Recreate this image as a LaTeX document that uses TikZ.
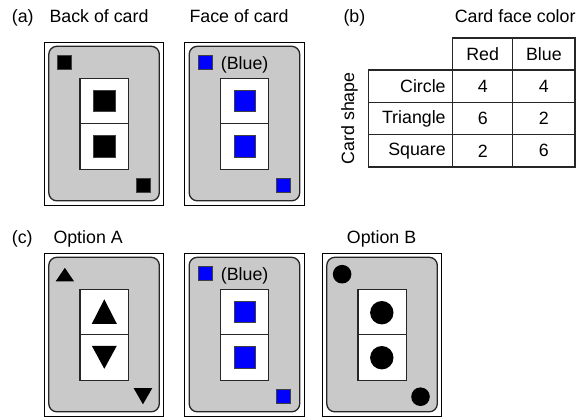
\documentclass[tikz,border=0pt]{standalone}
\usepackage{fontspec}
\setmainfont{Liberation Sans}
\begin{document}
\begin{tikzpicture}[x=1pt,y=-1pt,
  lab/.style={inner sep=0pt,anchor=base west,font=\fontsize{17.8}{20}\selectfont},
  outerline/.style={draw=black,line width=1.3pt,fill=white},
  greyface/.style={draw=black!85,line width=1.3pt,fill=black!21,rounded corners=8pt},
  cellbox/.style={draw=black!85,line width=1.2pt,fill=white},
  sqsmall/.style={draw=black!75,line width=0.9pt,minimum size=14pt,inner sep=0pt},
  sqbig/.style={draw=black!75,line width=0.9pt,minimum size=21.5pt,inner sep=0pt},
  dotsmall/.style={circle,fill=black,minimum size=18.6pt,inner sep=0pt},
  dotbig/.style={circle,fill=black,minimum size=23.4pt,inner sep=0pt},
  tcell/.style={draw=black!85,line width=1.3pt,minimum height=32.3pt,inner sep=0pt,font=\fontsize{17.8}{20}\selectfont},
  blueface/.style={fill=blue}
]
\useasboundingbox (0,0) rectangle (577,417);

% ---------- labels ----------
\node[lab] (la) at (11.7,22.7) {(a)};
\node[lab] (lback) at (49.3,22.7) {Back of card};
\node[lab] (lface) at (189.3,22.7) {Face of card};
\node[lab] (lb) at (343.3,22.7) {(b)};
\node[lab,anchor=base east] (lcolor) at (575.7,22.7) {Card face color};
\node[lab] (lc) at (11.7,243.3) {(c)};
\node[lab] (loa) at (53.3,243.3) {Option A};
\node[lab] (lob) at (346.7,243.3) {Option B};

% ---------- card 1: back of card (squares) ----------
\begin{scope}[shift={(44.3,42.3)}]
  \draw[outerline] (0,0) rectangle (119.5,163);
  \draw[greyface] (4.5,4) rectangle (115,158.5);
  \draw[cellbox] (35.7,36) rectangle (84,127);
  \draw[cellbox] (35.7,81.5) -- (84,81.5);
  \node[sqsmall,fill=black] (c1a) at (20.3,20.3) {};
  \node[sqbig,fill=black] (c1b) at (60,58.75) {};
  \node[sqbig,fill=black] (c1c) at (60,104.25) {};
  \node[sqsmall,fill=black] (c1d) at (98.8,142.8) {};
\end{scope}

% ---------- card 2: face of card (blue) ----------
\begin{scope}[shift={(184.7,42.3)}]
  \draw[outerline] (0,0) rectangle (119.5,163);
  \draw[greyface] (4.5,4) rectangle (115,158.5);
  \draw[cellbox] (35.7,36) rectangle (84,127);
  \draw[cellbox] (35.7,81.5) -- (84,81.5);
  \node[sqsmall,blueface] (c2a) at (20.3,20.5) {};
  \node[lab] (c2t) at (36,27.1) {(Blue)};
  \node[sqbig,blueface] (c2b) at (60,58.75) {};
  \node[sqbig,blueface] (c2c) at (60,104.25) {};
  \node[sqsmall,blueface] (c2d) at (98.8,142.8) {};
\end{scope}

% ---------- card 3: option A (triangles) ----------
\begin{scope}[shift={(44.3,253.3)}]
  \draw[outerline] (0,0) rectangle (119.5,163);
  \draw[greyface] (4.5,4) rectangle (115,158.5);
  \draw[cellbox] (35.7,36) rectangle (84,127);
  \draw[cellbox] (35.7,81.5) -- (84,81.5);
  \fill[black] (11.4,28) -- (29.7,28) -- (20.55,14.5) -- cycle;
  \fill[black] (47.5,70.5) -- (72.5,70.5) -- (60,46) -- cycle;
  \fill[black] (47.5,92.5) -- (72.5,92.5) -- (60,115.5) -- cycle;
  \fill[black] (89.3,134.8) -- (108,134.8) -- (98.65,151) -- cycle;
\end{scope}

% ---------- card 4: option A face (blue) ----------
\begin{scope}[shift={(184.7,253.3)}]
  \draw[outerline] (0,0) rectangle (119.5,163);
  \draw[greyface] (4.5,4) rectangle (115,158.5);
  \draw[cellbox] (35.7,36) rectangle (84,127);
  \draw[cellbox] (35.7,81.5) -- (84,81.5);
  \node[sqsmall,blueface] (c4a) at (20.3,20.5) {};
  \node[lab] (c4t) at (36,27.1) {(Blue)};
  \node[sqbig,blueface] (c4b) at (60,58.75) {};
  \node[sqbig,blueface] (c4c) at (60,104.25) {};
  \node[sqsmall,blueface] (c4d) at (98.8,142.8) {};
\end{scope}

% ---------- card 5: option B (circles) ----------
\begin{scope}[shift={(322.3,253.3)}]
  \draw[outerline] (0,0) rectangle (119.5,163);
  \draw[greyface] (4.5,4) rectangle (115,158.5);
  \draw[cellbox] (35.7,36) rectangle (84,127);
  \draw[cellbox] (35.7,81.5) -- (84,81.5);
  \node[dotsmall] (c5a) at (19.8,20.9) {};
  \node[dotbig] (c5b) at (59.5,59.4) {};
  \node[dotbig] (c5c) at (59.5,104.4) {};
  \node[dotsmall] (c5d) at (98.2,143.4) {};
\end{scope}

% ---------- table (b) ----------
\node[tcell,minimum width=60pt] (hred) at (482.7,54.15) {Red};
\node[tcell,minimum width=62.3pt] (hblue) at (543.85,54.15) {Blue};
\node[tcell,minimum width=84pt] (rcirc) at (410.7,86.15) {};
\node[tcell,minimum width=84pt] (rtri) at (410.7,118.65) {};
\node[tcell,minimum width=84pt] (rsq) at (410.7,150.85) {};
\node[lab,anchor=east] at ([xshift=-7.5pt]rcirc.east) {Circle};
\node[lab,anchor=east] at ([xshift=-7.5pt]rtri.east) {Triangle};
\node[lab,anchor=east] at ([xshift=-7.5pt]rsq.east) {Square};
\node[tcell,minimum width=60pt] (c11) at (482.7,86.15) {4};
\node[tcell,minimum width=62.3pt] (c12) at (543.85,86.15) {4};
\node[tcell,minimum width=60pt] (c21) at (482.7,118.65) {6};
\node[tcell,minimum width=62.3pt] (c22) at (543.85,118.65) {2};
\node[tcell,minimum width=60pt] (c31) at (482.7,150.85) {2};
\node[tcell,minimum width=62.3pt] (c32) at (543.85,150.85) {6};
\node[lab,anchor=center,rotate=90] (lshape) at (349.5,118.3) {Card shape};
\end{tikzpicture}
\end{document}
